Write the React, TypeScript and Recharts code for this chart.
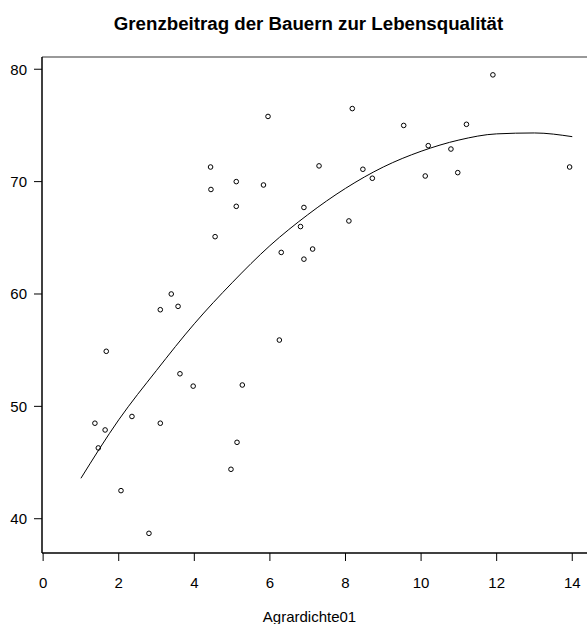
import { ComposedChart, Scatter, Line, XAxis, YAxis, ReferenceLine } from 'recharts';

// observed points (Agrardichte01 vs. Lebensqualität)
const pointX = [
  1.37, 1.46, 1.64, 1.67, 2.06, 2.35, 2.8, 3.1, 3.1, 3.39, 3.57, 3.62, 3.97, 4.43,
  4.44, 4.55, 4.97, 5.13, 5.11, 5.11, 5.27, 5.83, 5.95, 6.25, 6.3, 6.81, 6.9, 6.9,
  7.13, 7.3, 8.09, 8.18, 8.46, 8.71, 9.54, 10.11, 10.19, 10.79, 10.97, 11.2, 11.9, 13.93,
];
const pointY = [
  48.5, 46.3, 47.9, 54.9, 42.5, 49.1, 38.7, 58.6, 48.5, 60.0, 58.9, 52.9, 51.8, 71.3,
  69.3, 65.1, 44.4, 46.8, 70.0, 67.8, 51.9, 69.7, 75.8, 55.9, 63.7, 66.0, 67.7, 63.1,
  64.0, 71.4, 66.5, 76.5, 71.1, 70.3, 75.0, 70.5, 73.2, 72.9, 70.8, 75.1, 79.5, 71.3,
];

// fitted curve
const curveX = [1, 2, 3, 4, 5, 6, 7, 8, 9, 10, 11, 12, 13, 14];
const curveY = [43.6, 48.8, 53.2, 57.35, 61.0, 64.3, 67.05, 69.4, 71.3, 72.7, 73.7, 74.25, 74.33, 74.0];

const xTicks = [0, 2, 4, 6, 8, 10, 12, 14];
const yTicks = [40, 50, 60, 70, 80];

const points = pointX.map((x, i) => ({ x, y: pointY[i] }));
const curve = curveX.map((x, i) => ({ x, y: curveY[i] }));

const font = 'Liberation Sans, Arial, Helvetica, sans-serif';
const tick = { fontSize: 15, fill: '#000', fontFamily: font };

const Ring = (props: any) => (
  <circle cx={props.cx} cy={props.cy} r={2.3} fill="none" stroke="#000" strokeWidth={1} />
);

export default function App() {
  return (
    <div style={{ position: 'absolute', left: 0, top: 0, width: 587, height: 624, background: '#fff', fontFamily: font }}>
      <div
        style={{
          position: 'absolute', left: 0, top: 15, width: 617, textAlign: 'center',
          fontSize: 18.7, lineHeight: '18.7px', fontWeight: 'bold', color: '#000',
        }}
      >
        Grenzbeitrag der Bauern zur Lebensqualität
      </div>
      <ComposedChart width={587} height={624} margin={{ top: 57, right: 0, bottom: 0, left: 0 }}>
        <XAxis
          type="number"
          dataKey="x"
          domain={[-0.03, 14.39]}
          allowDataOverflow
          ticks={xTicks}
          tick={tick}
          tickSize={8}
          tickMargin={16}
          height={71}
          axisLine={{ stroke: '#000', strokeWidth: 1.5 }}
          tickLine={{ stroke: '#000' }}
        />
        <YAxis
          type="number"
          dataKey="y"
          domain={[36.95, 81.09]}
          allowDataOverflow
          ticks={yTicks}
          tick={tick}
          tickSize={8}
          tickMargin={7}
          width={42}
          axisLine={{ stroke: '#000', strokeWidth: 1.5 }}
          tickLine={{ stroke: '#000' }}
        />
        <ReferenceLine y={81.09} stroke="#777" strokeWidth={1.5} />
        <Line
          data={curve}
          dataKey="y"
          type="monotone"
          stroke="#000"
          strokeWidth={1}
          dot={false}
          activeDot={false}
          isAnimationActive={false}
        />
        <Scatter data={points} dataKey="y" shape={Ring} isAnimationActive={false} />
      </ComposedChart>
      <div
        style={{
          position: 'absolute', left: 0, top: 609, width: 619, textAlign: 'center',
          fontSize: 15, lineHeight: '15px', color: '#000',
        }}
      >
        Agrardichte01
      </div>
    </div>
  );
}
